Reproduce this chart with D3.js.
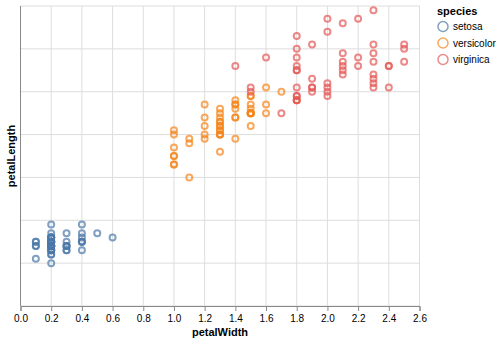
<!DOCTYPE html>
<html><head><meta charset="utf-8">
<script src="https://cdn.jsdelivr.net/npm/d3@7"></script>
<style>body{margin:0;background:#fff}svg{font-family:"Liberation Sans",Arial,sans-serif}</style>
</head><body><svg id="c" width="502" height="343"></svg>
<script>
const species = ["setosa","versicolor","virginica"];
const colors = ["#4c78a8","#f58518","#e45756"];
const xTicks = [0,0.2,0.4,0.6,0.8,1.0,1.2,1.4,1.6,1.8,2.0,2.2,2.4,2.6];
const yTicks = [0,1,2,3,4,5,6,7];
const setosaLength = [1.4,1.4,1.3,1.5,1.4,1.7,1.4,1.5,1.4,1.5,1.5,1.6,1.4,1.1,1.2,1.5,1.3,1.4,1.7,1.5,1.7,1.5,1.0,1.7,1.9,1.6,1.6,1.5,1.4,1.6,1.6,1.5,1.5,1.4,1.5,1.2,1.3,1.4,1.3,1.5,1.3,1.3,1.3,1.6,1.9,1.4,1.6,1.4,1.5,1.4];
const setosaWidth  = [0.2,0.2,0.2,0.2,0.2,0.4,0.3,0.2,0.2,0.1,0.2,0.2,0.1,0.1,0.2,0.4,0.4,0.3,0.3,0.3,0.2,0.4,0.2,0.5,0.2,0.2,0.4,0.2,0.2,0.2,0.2,0.4,0.1,0.2,0.2,0.2,0.2,0.1,0.2,0.2,0.3,0.3,0.2,0.6,0.4,0.3,0.2,0.2,0.2,0.2];
const versicolorLength = [4.7,4.5,4.9,4.0,4.6,4.5,4.7,3.3,4.6,3.9,3.5,4.2,4.0,4.7,3.6,4.4,4.5,4.1,4.5,3.9,4.8,4.0,4.9,4.7,4.3,4.4,4.8,5.0,4.5,3.5,3.8,3.7,3.9,5.1,4.5,4.5,4.7,4.4,4.1,4.0,4.4,4.6,4.0,3.3,4.2,4.2,4.2,4.3,3.0,4.1];
const versicolorWidth  = [1.4,1.5,1.5,1.3,1.5,1.3,1.6,1.0,1.3,1.4,1.0,1.5,1.0,1.4,1.3,1.4,1.5,1.0,1.5,1.1,1.8,1.3,1.5,1.2,1.3,1.4,1.4,1.7,1.5,1.0,1.1,1.0,1.2,1.6,1.5,1.6,1.5,1.3,1.3,1.3,1.2,1.4,1.2,1.0,1.3,1.2,1.3,1.3,1.1,1.3];
const virginicaLength = [6.0,5.1,5.9,5.6,5.8,6.6,4.5,6.3,5.8,6.1,5.1,5.3,5.5,5.0,5.1,5.3,5.5,6.7,6.9,5.0,5.7,4.9,6.7,4.9,5.7,6.0,4.8,4.9,5.6,5.8,6.1,6.4,5.6,5.1,5.6,6.1,5.6,5.5,4.8,5.4,5.6,5.1,5.1,5.9,5.7,5.2,5.0,5.2,5.4,5.1];
const virginicaWidth  = [2.5,1.9,2.1,1.8,2.2,2.1,1.7,1.8,1.8,2.5,2.0,1.9,2.1,2.0,2.4,2.3,1.8,2.2,2.3,1.5,2.3,2.0,2.0,1.8,2.1,1.8,1.8,1.8,2.1,1.6,1.9,2.0,2.2,1.5,1.4,2.3,2.4,1.8,1.8,2.1,2.4,2.3,1.9,2.3,2.5,2.3,1.9,2.0,2.3,1.8];

const rows = [];
[[setosaLength,setosaWidth],[versicolorLength,versicolorWidth],[virginicaLength,virginicaWidth]].forEach((p,si)=>{
  p[0].forEach((l,i)=>rows.push({species:species[si], petalLength:l, petalWidth:p[1][i]}));
});

const svg = d3.select("#c");
const L = 20.5, T = 6, W = 399, H = 300;
const x = d3.scaleLinear().domain([0,2.6]).range([0,W]);
const y = d3.scaleLinear().domain([0,7]).range([H,0]);
const color = d3.scaleOrdinal().domain(species).range(colors);
const g = svg.append("g").attr("transform",`translate(${L},${T})`);

// grid
g.append("g").selectAll("line").data(xTicks).join("line")
  .attr("x1",d=>x(d)).attr("x2",d=>x(d)).attr("y1",0).attr("y2",H)
  .attr("stroke","#ddd").attr("stroke-width",1);
g.append("g").selectAll("line").data(yTicks).join("line")
  .attr("x1",0).attr("x2",W).attr("y1",d=>y(d)).attr("y2",d=>y(d))
  .attr("stroke","#ddd").attr("stroke-width",1);

// x axis
const xa = g.append("g").attr("transform",`translate(0,${H})`)
  .call(d3.axisBottom(x).tickValues(xTicks).tickFormat(d3.format(".1f")).tickSize(5).tickPadding(4));
xa.select(".domain").attr("stroke","#888");
xa.selectAll(".tick line").attr("stroke","#888");
xa.selectAll("text").attr("fill","#000").attr("font-size",10).attr("font-family","Liberation Sans, Arial, sans-serif");

// y axis line only
g.append("line").attr("x1",0).attr("x2",0).attr("y1",0).attr("y2",H).attr("stroke","#888");

// titles
svg.append("text").attr("x",L+W/2).attr("y",335.5).attr("text-anchor","middle")
  .attr("font-size",11).attr("font-weight","bold").text("petalWidth");
svg.append("text").attr("transform",`translate(14.5,${T+H/2}) rotate(-90)`).attr("text-anchor","middle")
  .attr("font-size",11).attr("font-weight","bold").text("petalLength");

// points
g.append("g").selectAll("circle").data(rows).join("circle")
  .attr("cx",d=>x(d.petalWidth)).attr("cy",d=>y(d.petalLength)).attr("r",3)
  .attr("fill","none").attr("stroke",d=>color(d.species)).attr("stroke-width",2).attr("stroke-opacity",0.7);

// legend
const lg = svg.append("g").attr("transform","translate(437,0)");
lg.append("text").attr("x",0).attr("y",15).attr("font-size",11).attr("font-weight","bold").text("species");
const it = lg.selectAll("g.it").data(species).join("g").attr("class","it")
  .attr("transform",(d,i)=>`translate(0,${26.5+i*16.5})`);
it.append("circle").attr("cx",6).attr("cy",0).attr("r",5)
  .attr("fill","none").attr("stroke",d=>color(d)).attr("stroke-width",1.5).attr("stroke-opacity",0.7);
it.append("text").attr("x",16).attr("y",3.5).attr("font-size",10).text(d=>d);
</script></body></html>
